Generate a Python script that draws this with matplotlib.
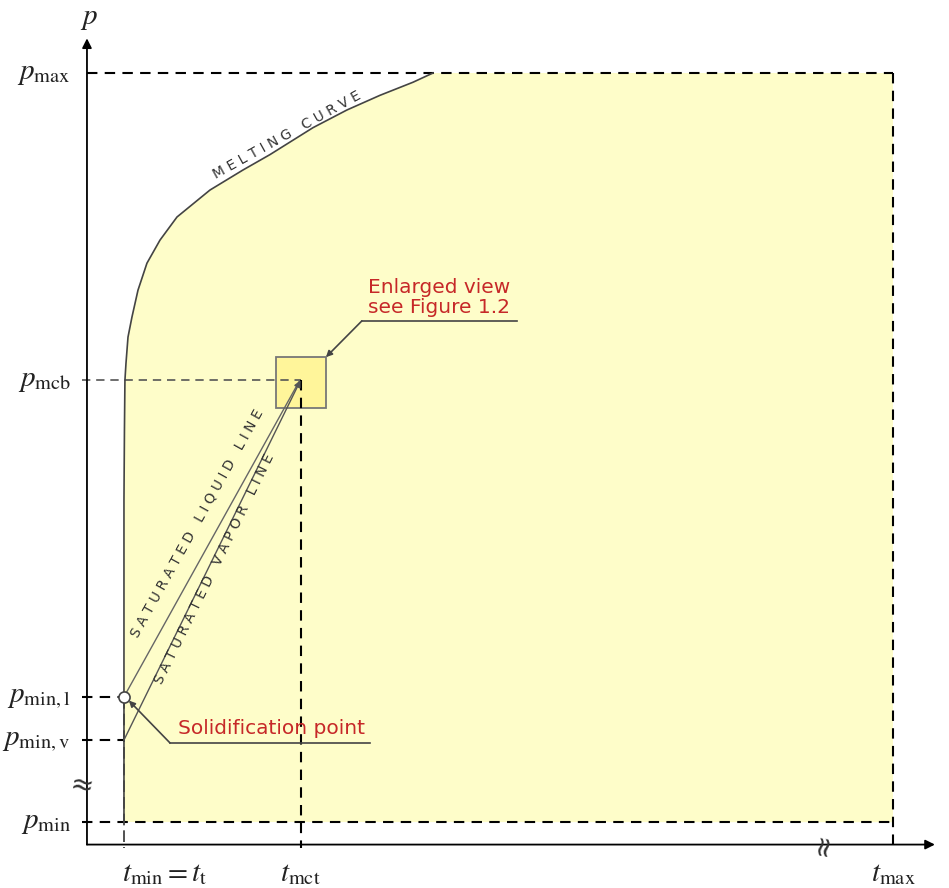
import numpy as np
import matplotlib.pyplot as plt
from matplotlib.patches import Polygon, Rectangle

plt.rcParams['mathtext.fontset'] = 'stix'

# schematic scale: t and p both run 0..100 between axis origin and t_max / p_max
t_min, t_mct, t_max = 4.6, 26.5, 100.0
p_min, p_min_v, p_min_l, p_mcb, p_max = 2.7, 13.4, 19.0, 60.1, 100.0

# melting curve
melt_t = [4.59, 4.59, 4.65, 4.71, 4.84, 5.09, 5.58, 6.33, 7.44, 9.06, 11.17,
          15.26, 19.35, 22.70, 28.04, 32.26, 36.35, 40.45, 42.93]
melt_p = [2.73, 44.5, 53.6, 60.1, 62.3, 65.7, 68.3, 71.8, 75.3, 78.3, 81.3,
          84.8, 87.4, 89.4, 92.9, 95.2, 97.1, 98.8, 100.0]

# saturated lines
liq_t = [t_min, 26.3]
liq_p = [p_min_l, 59.9]
vap_t = [t_min, 26.5]
vap_p = [p_min_v, 60.1]

# enlarged view box
box_t = [23.45, 29.65]
box_p = [56.5, 63.1]

fill_col = '#fefdc9'
line_col = '#444444'
red = '#c62828'

fig = plt.figure(figsize=(9.49, 8.88), dpi=100)
ax = fig.add_axes([0, 0, 1, 1])
ax.set_xlim(-10.79, 106.95)
ax.set_ylim(-5.84, 109.48)
ax.axis('off')

# region
poly = list(zip(melt_t, melt_p)) + [(t_max, p_max), (t_max, p_min)]
ax.add_patch(Polygon(poly, closed=True, facecolor=fill_col, edgecolor='none', zorder=0))
ax.plot(melt_t, melt_p, color=line_col, lw=1.2, zorder=3)

# box
ax.add_patch(Rectangle((box_t[0], box_p[0]), box_t[1] - box_t[0], box_p[1] - box_p[0],
                       facecolor='#fff59a', edgecolor='#777777', lw=1.3, zorder=1))

# dashed guide lines
dash = dict(color='black', lw=1.5, ls=(0, (5, 3.5)), zorder=2)
ax.plot([0, t_max], [p_max, p_max], **dash)
ax.plot([-0.6, t_max], [p_min, p_min], **dash)
ax.plot([t_max, t_max], [p_max, -0.6], **dash)
ax.plot([-0.6, t_mct], [p_mcb, p_mcb], color='#555555', lw=1.2, ls=(0, (5, 3.5)), zorder=2)
ax.plot([t_mct, t_mct], [p_mcb, -0.6], **dash)
ax.plot([t_min, t_min], [p_min_l, -0.6], color='#333333', lw=1.2, ls=(0, (7, 3)), zorder=2)
ax.plot([-0.6, t_min], [p_min_l, p_min_l], **dash)
ax.plot([-0.6, t_min], [p_min_v, p_min_v], **dash)

# saturated lines
ax.plot(liq_t, liq_p, color='#666666', lw=1.0, zorder=3)
ax.annotate('', xy=(vap_t[1], vap_p[1]), xytext=(vap_t[0], vap_p[0]),
            arrowprops=dict(arrowstyle='-|>', color='#555555', lw=1.0,
                            mutation_scale=10, shrinkA=0, shrinkB=0), zorder=3)
ax.plot([t_min], [p_min_l], 'o', ms=8, mfc='white', mec='#444444', mew=1.2, zorder=5)

# axes arrows
arr = dict(arrowstyle='-|>', color='black', lw=1.3, mutation_scale=14, shrinkA=0, shrinkB=0)
ax.annotate('', xy=(105.2, -0.2), xytext=(0, -0.2), arrowprops=arr)
ax.annotate('', xy=(0, 104.5), xytext=(0, -0.2), arrowprops=arr)


def disp_angle(t0, p0, t1, p1):
    a = ax.transData.transform([(t0, p0), (t1, p1)])
    return np.degrees(np.arctan2(a[1, 1] - a[0, 1], a[1, 0] - a[0, 0]))


def spaced(s):
    return '   '.join(' '.join(w) for w in s.split())


small = dict(fontsize=10, color='#333333', ha='center', va='center',
             rotation_mode='anchor', family='DejaVu Sans')

ang = disp_angle(liq_t[0], liq_p[0], liq_t[1], liq_p[1])
ax.text(13.6, 41.5, spaced('SATURATED LIQUID LINE'), rotation=ang, **small)
ang = disp_angle(vap_t[0], vap_p[0], vap_t[1], vap_p[1])
ax.text(15.8, 35.6, spaced('SATURATED VAPOR LINE'), rotation=ang, **small)
ax.text(24.8, 92.0, spaced('MELTING CURVE'), rotation=29, **small)

# callouts
lead = dict(color='#444444', lw=1.2)
ax.plot([10.3, 35.1], [13.0, 13.0], **lead)
ax.annotate('', xy=(5.2, 18.5), xytext=(10.3, 13.0),
            arrowprops=dict(arrowstyle='-|>', color='#444444', lw=1.2,
                            mutation_scale=9, shrinkA=0, shrinkB=0))
ax.text(22.9, 13.6, 'Solidification point', color=red, fontsize=14.5,
        ha='center', va='bottom')

ax.plot([34.1, 53.3], [67.8, 67.8], **lead)
ax.annotate('', xy=(box_t[1], box_p[1]), xytext=(34.1, 67.8),
            arrowprops=dict(arrowstyle='-|>', color='#444444', lw=1.2,
                            mutation_scale=9, shrinkA=0, shrinkB=0))
ax.text(34.9, 68.3, 'Enlarged view\nsee Figure 1.2', color=red, fontsize=14.5,
        ha='left', va='bottom', linespacing=1.05)

# axis labels
lab = dict(fontsize=21, color='#222222')
ax.text(0.2, 107.2, r'$p$', ha='center', va='center', **lab)
ax.text(-2.0, p_max, r'$p_{\rm max}$', ha='right', va='center', **lab)
ax.text(-2.0, p_mcb, r'$p_{\rm mcb}$', ha='right', va='center', **lab)
ax.text(-2.0, p_min_l, r'$p_{\rm min,l}$', ha='right', va='center', **lab)
ax.text(-2.0, p_min_v, r'$p_{\rm min,v}$', ha='right', va='center', **lab)
ax.text(-2.0, p_min, r'$p_{\rm min}$', ha='right', va='center', **lab)
ax.text(-0.7, 7.4, '≈', ha='center', va='center', fontsize=20, rotation=-10, color='#333333')
ax.text(91.3, -0.2, '≈', ha='center', va='center', fontsize=20, rotation=80, color='#333333')

ax.text(9.6, -3.9, r'$t_{\rm min}=t_{\rm t}$', ha='center', va='center', **lab)
ax.text(t_mct, -3.9, r'$t_{\rm mct}$', ha='center', va='center', **lab)
ax.text(t_max, -3.9, r'$t_{\rm max}$', ha='center', va='center', **lab)

fig.savefig('out.png', dpi=100, facecolor='white')
